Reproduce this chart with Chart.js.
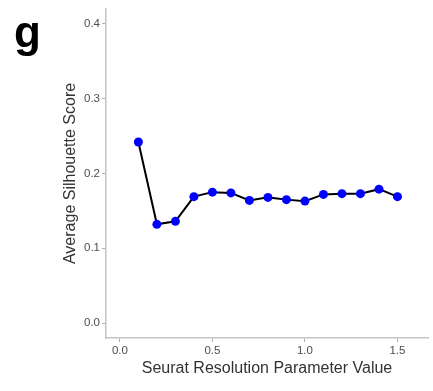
<!DOCTYPE html>
<html>
<head>
<meta charset="utf-8">
<script src="https://cdn.jsdelivr.net/npm/chart.js@4/dist/chart.umd.min.js"></script>
<style>
  html, body { margin: 0; padding: 0; background: #fff; }
  #wrap { position: relative; width: 433px; height: 391px; }
  #panel { position: absolute; left: 14px; top: 10px; font: bold 44px "Liberation Sans", Arial, sans-serif; color: #000; line-height: 1; }
</style>
</head>
<body>
<div id="wrap">
  <canvas id="myChart" width="433" height="391"></canvas>
  <div id="panel">g</div>
</div>
<script>
const resolutions = [0.1, 0.2, 0.3, 0.4, 0.5, 0.6, 0.7, 0.8, 0.9, 1.0, 1.1, 1.2, 1.3, 1.4, 1.5];
const silhouette = [0.242, 0.132, 0.136, 0.169, 0.175, 0.174, 0.164, 0.168, 0.165, 0.163, 0.172, 0.173, 0.173, 0.179, 0.169];
const xTicks = [0.0, 0.5, 1.0, 1.5];
const yTicks = [0.0, 0.1, 0.2, 0.3, 0.4];

const points = resolutions.map((x, i) => ({ x: x, y: silhouette[i] }));
const tickFont = { family: '"Liberation Sans", Arial, sans-serif', size: 11.5 };
const titleFont = { family: '"Liberation Sans", Arial, sans-serif', size: 16 };

const ctx = document.getElementById('myChart').getContext('2d');
const myChart = new Chart(ctx, {
    type: 'scatter',
    data: {
        datasets: [{
            data: points,
            showLine: true,
            borderColor: '#000',
            borderWidth: 2,
            pointBackgroundColor: '#0000ff',
            pointBorderColor: '#0000ff',
            pointBorderWidth: 0,
            pointRadius: 4.5
        }]
    },
    options: {
        responsive: false,
        animation: false,
        plugins: { legend: { display: false }, tooltip: { enabled: false } },
        layout: { padding: { left: 61, top: 8, right: 5, bottom: 0 } },
        scales: {
            x: {
                type: 'linear',
                min: -0.075,
                max: 1.665,
                afterBuildTicks: s => { s.ticks = xTicks.map(v => ({ value: v })); },
                afterFit: s => { s.height = 53; },
                ticks: { callback: v => v.toFixed(1), color: '#4d4d4d', font: tickFont, padding: 2 },
                grid: { drawOnChartArea: false, color: '#b0b0b0', tickLength: 4, lineWidth: 1 },
                border: { color: '#c4c4c4', width: 1.5 },
                title: { display: true, text: 'Seurat Resolution Parameter Value', color: '#333', font: titleFont, padding: { top: 0, bottom: 13 } }
            },
            y: {
                min: -0.02,
                max: 0.42,
                afterBuildTicks: s => { s.ticks = yTicks.map(v => ({ value: v })); },
                afterFit: s => { s.width = 45; },
                ticks: { callback: v => v.toFixed(1), color: '#4d4d4d', font: tickFont, padding: 2 },
                grid: { drawOnChartArea: false, color: '#b0b0b0', tickLength: 4, lineWidth: 1 },
                border: { color: '#c4c4c4', width: 1.5 },
                title: { display: true, text: 'Average Silhouette Score', color: '#333', font: titleFont, padding: 0 }
            }
        }
    }
});
</script>
</body>
</html>
